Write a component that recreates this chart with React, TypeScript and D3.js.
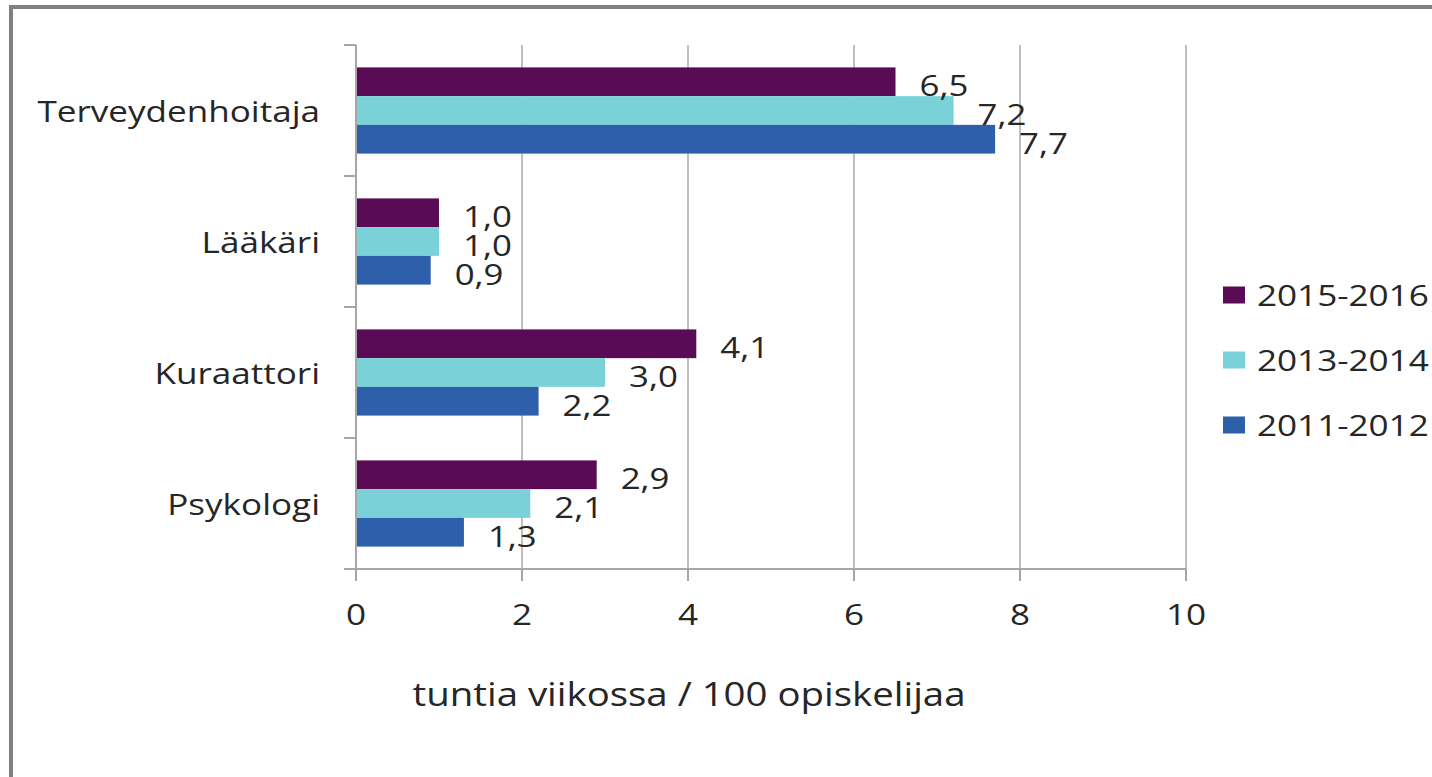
import * as d3 from 'd3'
import { useMemo } from 'react'

const categories = ['Terveydenhoitaja', 'Lääkäri', 'Kuraattori', 'Psykologi']
const seriesNames = ['2015-2016', '2013-2014', '2011-2012']
const values2015 = [6.5, 1.0, 4.1, 2.9]
const values2013 = [7.2, 1.0, 3.0, 2.1]
const values2011 = [7.7, 0.9, 2.2, 1.3]
const xTicks = [0, 2, 4, 6, 8, 10]
const colors = ['#5a0b55', '#7ad2d8', '#2d5fab']
const axisTitle = 'tuntia viikossa / 100 opiskelijaa'

const W = 1432
const H = 777
const margin = { left: 356, right: 246, top: 45, bottom: 208 }
const FONT = "'Open Sans', sans-serif"
const TEXT = '#262626'
const SX = 1.17 // the reference text looks stretched sideways

const fmt = (v: number) => v.toFixed(1).replace('.', ',')

// text drawn with a horizontal stretch, anchored at (x, y)
const Label = ({ x, y, anchor, size, sx = SX, children }: any) => (
  <g transform={`translate(${x},${y}) scale(${sx},1)`}>
    <text textAnchor={anchor} dominantBaseline="central" fontSize={size} fontFamily={FONT} fill={TEXT}>
      {children}
    </text>
  </g>
)

const App = () => {
  const series = [values2015, values2013, values2011]

  const x = useMemo(() => d3.scaleLinear().domain([0, 10]).range([margin.left, W - margin.right]), [])
  const y = useMemo(
    () => d3.scaleBand().domain(categories).range([margin.top, H - margin.bottom]).padding(0),
    []
  )
  const inner = useMemo(
    () => d3.scaleBand().domain(seriesNames).range([0, y.bandwidth()]).paddingInner(0).paddingOuter(0.78),
    [y]
  )

  const y0 = margin.top
  const y1 = H - margin.bottom

  return (
    <svg width={W} height={H} style={{ position: 'absolute', left: 0, top: 0, background: '#fff' }}>
      {/* frame */}
      <line x1={9} x2={W} y1={7} y2={7} stroke="#808080" strokeWidth={4} />
      <line x1={11} x2={11} y1={5} y2={H} stroke="#808080" strokeWidth={4} />

      {/* gridlines */}
      {xTicks.slice(1).map((t) => (
        <line key={t} x1={x(t)} x2={x(t)} y1={y0} y2={y1} stroke="#c0c0c0" strokeWidth={2} />
      ))}

      {/* bars */}
      {categories.map((c, i) => (
        <g key={c} transform={`translate(0,${y(c)})`}>
          {seriesNames.map((s, j) => (
            <rect
              key={s}
              x={x(0)}
              y={inner(s)}
              width={x(series[j][i]) - x(0)}
              height={inner.bandwidth()}
              fill={colors[j]}
            />
          ))}
        </g>
      ))}

      {/* value labels */}
      {categories.map((c, i) =>
        seriesNames.map((s, j) => (
          <Label
            key={c + s}
            x={x(series[j][i]) + 24}
            y={(y(c) as number) + (inner(s) as number) + inner.bandwidth() / 2 + 3}
            anchor="start"
            size={29}
            sx={1.2}
          >
            {fmt(series[j][i])}
          </Label>
        ))
      )}

      {/* y axis */}
      <line x1={x(0)} x2={x(0)} y1={y0} y2={y1 + 12} stroke="#a6a6a6" strokeWidth={2} />
      {[...categories.map((c) => y(c) as number), y1].map((v, i) => (
        <line key={i} x1={x(0) - 12} x2={x(0)} y1={v} y2={v} stroke="#a6a6a6" strokeWidth={2} />
      ))}
      {categories.map((c) => (
        <Label key={c} x={320} y={(y(c) as number) + y.bandwidth() / 2} anchor="end" size={30}>
          {c}
        </Label>
      ))}

      {/* x axis */}
      <line x1={x(0) - 12} x2={x(10)} y1={y1} y2={y1} stroke="#a6a6a6" strokeWidth={2} />
      {xTicks.map((t) => (
        <g key={t}>
          <line x1={x(t)} x2={x(t)} y1={y1} y2={y1 + 12} stroke="#a6a6a6" strokeWidth={2} />
          <Label x={x(t)} y={614} anchor="middle" size={30}>
            {t}
          </Label>
        </g>
      ))}
      <Label x={689} y={693} anchor="middle" size={32} sx={1.2}>
        {axisTitle}
      </Label>

      {/* legend */}
      {seriesNames.map((s, j) => (
        <g key={s} transform={`translate(1223,${295 + j * 65})`}>
          <rect x={0} y={-8.5} width={22} height={17} fill={colors[j]} />
          <Label x={34} y={0} anchor="start" size={30}>
            {s}
          </Label>
        </g>
      ))}
    </svg>
  )
}

export default App
